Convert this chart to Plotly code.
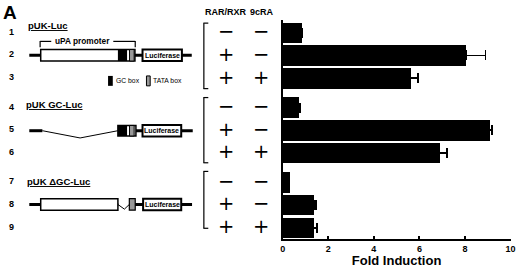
import plotly.graph_objects as go

# ---------------- data ----------------
rows = ["1", "2", "3", "4", "5", "6", "7", "8", "9"]
constructs = ["pUK-Luc", "pUK GC-Luc", "pUK \u0394GC-Luc"]
rar_rxr = ["\u2212", "+", "+", "\u2212", "+", "+", "\u2212", "+", "+"]
cra9 = ["\u2212", "\u2212", "+", "\u2212", "\u2212", "+", "\u2212", "\u2212", "+"]
fold_induction = [0.83, 8.05, 5.6, 0.72, 9.06, 6.87, 0.29, 1.37, 1.34]
fold_error = [0.05, 0.85, 0.33, 0.03, 0.12, 0.33, 0.0, 0.09, 0.17]
x_ticks = [0, 2, 4, 6, 8, 10]

# ---------------- layout helpers ----------------
W, H = 520, 268
FONT = "Arial, Liberation Sans, Helvetica, sans-serif"

def px(x):
    return x / W

def py(y):
    return 1 - y / H

# bar positions: 3 groups of 3 rows with a gap between groups
GROUP_STEP = 3.29
pos = [g * GROUP_STEP + r for g in range(3) for r in range(3)]
SLOT = 22.9          # pixels per row unit
TOP_PX = 33.0        # pixel centre of first bar
AX_TOP, AX_BOT = 20.0, 241.0
y_range = [(AX_BOT - TOP_PX) / SLOT, (AX_TOP - TOP_PX) / SLOT]
row_px = [TOP_PX + p * SLOT for p in pos]

fig = go.Figure()
fig.add_trace(go.Bar(
    x=fold_induction, y=pos, orientation="h", width=0.9,
    marker=dict(color="black", line=dict(width=0)),
    error_x=dict(type="data", array=fold_error, arrayminus=[0] * len(fold_error),
                 symmetric=False, color="black", thickness=1.6, width=5),
    showlegend=False, hoverinfo="x",
))

shapes = []
annotations = []

def line(x0, y0, x1, y1, w=1, color="black"):
    shapes.append(dict(type="line", xref="paper", yref="paper",
                       x0=px(x0), y0=py(y0), x1=px(x1), y1=py(y1),
                       line=dict(color=color, width=w), layer="above"))

def rect(x0, y0, x1, y1, fill="white", w=1.2, lc="black"):
    shapes.append(dict(type="rect", xref="paper", yref="paper",
                       x0=px(x0), y0=py(y0), x1=px(x1), y1=py(y1),
                       fillcolor=fill, line=dict(color=lc, width=w), layer="above"))

def path(points, w=1):
    d = "M " + " L ".join(f"{px(x)},{py(y)}" for x, y in points)
    shapes.append(dict(type="path", xref="paper", yref="paper", path=d,
                       line=dict(color="black", width=w), layer="above"))

def text(t, x, y, size=9, bold=True, xanchor="center", family=FONT,
         yanchor="middle"):
    annotations.append(dict(text=t, xref="paper", yref="paper", x=px(x), y=py(y),
                            xanchor=xanchor, yanchor=yanchor, showarrow=False,
                            font=dict(family=family, size=size, color="black",
                                      weight="bold" if bold else "normal")))

def luciferase(x0, x1, yc):
    rect(x0, yc - 5.8, x1, yc + 5.8, fill="white", w=2)
    text("Luciferase", (x0 + x1) / 2, yc, size=7)

# panel letter
text("A", -2, 0, size=19, xanchor="left", yanchor="top")

# row numbers
for r, yp in zip(rows, row_px):
    text(r, 9, yp - 1, size=9)

# construct titles
title_y = [25.5, 105, 183]
title_x = [23, 21.7, 22.7]
for c, xx, yy in zip(constructs, title_x, title_y):
    text("<u>" + c + "</u>", xx, yy, size=9.5, xanchor="left")

# --- construct 1: pUK-Luc ---
yc = 55.7
line(26.7, yc, 191.7, yc, w=3)
rect(38.3, yc - 5.8, 134, yc + 5.8, fill="white", w=1.5)
rect(116.7, yc - 5.8, 126, yc + 5.8, fill="black", w=0)
rect(128.5, yc - 5.8, 133.2, yc + 5.8, fill="#999999", w=1)
luciferase(141.7, 181.7, yc)
# uPA promoter bracket
line(37.7, 41.7, 49, 41.7, w=1.2)
line(112, 41.7, 134.3, 41.7, w=1.2)
line(37.7, 41.2, 37.7, 47.7, w=1.2)
line(134.3, 41.2, 134.3, 47.7, w=1.2)
text("uPA promoter", 81, 41.2, size=8.3)
# legend
rect(106.7, 76.5, 111.5, 86.5, fill="black", w=0)
text("GC box", 112.5, 81.5, size=6.8, bold=False, xanchor="left")
rect(145.7, 76.5, 149.5, 86.5, fill="#999999", w=1)
text("TATA box", 150.5, 81.5, size=6.8, bold=False, xanchor="left")

# --- construct 2: pUK GC-Luc ---
yc = 131.7
line(26.7, yc, 40, yc, w=3)
path([(40, yc), (78.3, 139), (116.7, yc)], w=1)
line(135, yc, 192.7, yc, w=3)
rect(116.7, yc - 5.3, 135, yc + 5.3, fill="white", w=1.5)
rect(116.7, yc - 5.3, 126, yc + 5.3, fill="black", w=0)
rect(128.5, yc - 5.3, 133.2, yc + 5.3, fill="#999999", w=1)
luciferase(141.7, 181, yc)

# --- construct 3: pUK dGC-Luc ---
yc = 206
line(26.7, yc, 117, yc, w=3)
line(128, yc, 192, yc, w=3)
rect(38.3, yc - 5.8, 116.7, yc + 5.8, fill="white", w=1.5)
path([(116.7, yc), (123.3, 210.7), (128.3, yc)], w=1)
rect(128.3, yc - 5.8, 134.3, yc + 5.8, fill="#999999", w=1.2)
luciferase(142.3, 181, yc)

# --- treatment columns ---
text("RAR/RXR", 226, 12.3, size=9)
text("9cRA", 263, 12.3, size=9)
for a, b, yp in zip(rar_rxr, cra9, row_px):
    text(a, 226.7, yp - 1.2, size=19.5, bold=False, family="DejaVu Sans")
    text(b, 262.3, yp - 1.2, size=19.5, bold=False, family="DejaVu Sans")
for y0, y1 in [(23.3, 89.3), (98.3, 164), (172.7, 230)]:
    line(204, y0, 204, y1, w=1.2)
    line(203.5, y0, 208.5, y0, w=1.2)
    line(203.5, y1, 208.5, y1, w=1.2)

fig.update_layout(
    width=W, height=H,
    margin=dict(l=0, r=0, t=0, b=0),
    paper_bgcolor="white", plot_bgcolor="white",
    font=dict(family=FONT, color="black"),
    bargap=0,
    xaxis=dict(domain=[284 / W, 515.5 / W], range=[0, 10], tickvals=x_ticks,
               showline=True, linecolor="black", linewidth=2,
               ticks="inside", ticklen=3, tickwidth=2, tickcolor="black",
               ticklabeloverflow="allow",
               tickfont=dict(size=9, weight="bold"), showgrid=False, zeroline=False,
               title=dict(text="Fold Induction", standoff=5,
                          font=dict(size=13, weight="bold"))),
    yaxis=dict(domain=[1 - AX_BOT / H, 1 - AX_TOP / H], range=y_range,
               showline=True, linecolor="black", linewidth=2,
               showticklabels=False, ticks="", showgrid=False, zeroline=False),
    shapes=shapes,
    annotations=annotations,
)

fig.write_html("out.html", config={"displayModeBar": False},
               post_script="document.body.style.margin='0';document.body.style.padding='0';")
